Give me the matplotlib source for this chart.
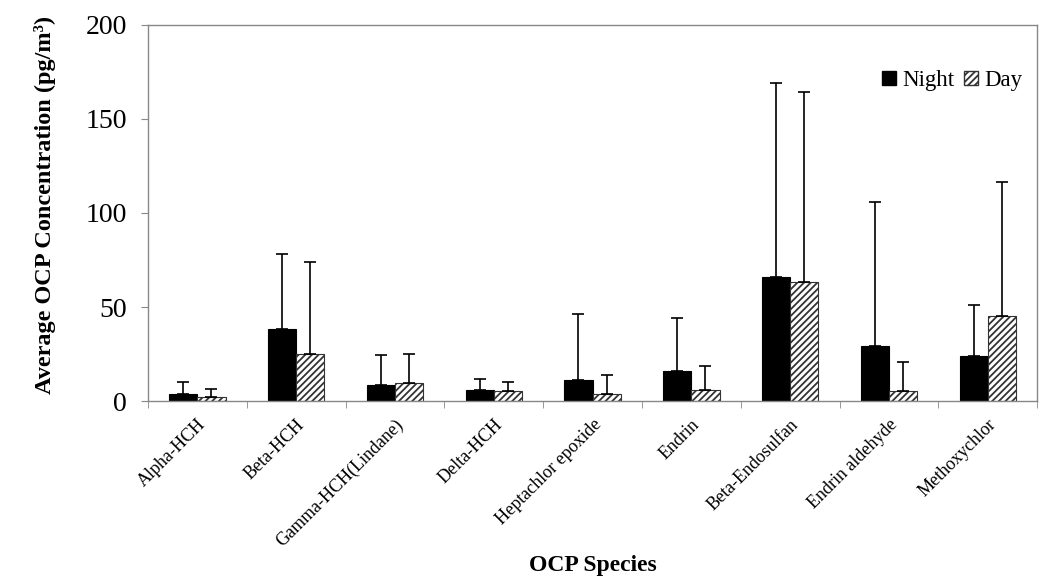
import matplotlib.pyplot as plt
import numpy as np
from matplotlib.patches import Patch

plt.rcParams['font.family'] = ['Liberation Serif', 'DejaVu Serif']
plt.rcParams['hatch.linewidth'] = 1.3

species = ["Alpha-HCH", "Beta-HCH", "Gamma-HCH(Lindane)", "Delta-HCH",
           "Heptachlor epoxide", "Endrin", "Beta-Endosulfan",
           "Endrin aldehyde", "Methoxychlor"]
night = [3.9, 38.3, 8.7, 5.9, 11.2, 15.8, 66.0, 29.4, 24.1]
night_err = [6.4, 40.0, 15.6, 5.6, 35.1, 28.5, 103.1, 76.3, 27.0]
day = [2.1, 25.2, 9.8, 5.2, 3.6, 5.7, 63.1, 5.1, 45.2]
day_err = [4.5, 48.7, 15.2, 5.1, 10.1, 12.9, 101.3, 15.9, 71.1]

fig = plt.figure(figsize=(10.53, 5.81), dpi=100)
ax = fig.add_axes([0.1405, 0.3098, 0.8445, 0.6472])

x = np.arange(len(species))
w = 0.285
ax.bar(x - w / 2, night, w, color="black", edgecolor="black", linewidth=0.8,
       yerr=[np.zeros(len(x)), night_err], capsize=4.5,
       error_kw=dict(elinewidth=1.2, capthick=1.2, ecolor="black"))
ax.bar(x + w / 2, day, w, color="white", edgecolor="#333333", linewidth=0.8,
       hatch="/////", yerr=[np.zeros(len(x)), day_err], capsize=4.5,
       error_kw=dict(elinewidth=1.2, capthick=1.2, ecolor="black"))

ax.set_xlim(-0.5, len(species) - 0.5)
ax.set_ylim(0, 200)
ax.set_yticks([0, 50, 100, 150, 200])
ax.tick_params(axis="y", labelsize=20, length=5, color="#888888", direction="out", pad=10)

ax.set_xticks(x)
ax.set_xticklabels(species, rotation=45, ha="right", rotation_mode="anchor", fontsize=13)
ax.tick_params(axis="x", length=0, pad=11)
ax.set_xticks(np.arange(-0.5, len(species), 1), minor=True)
ax.tick_params(axis="x", which="minor", length=5, color="#888888", direction="out")

for s in ax.spines.values():
    s.set_color("#888888")
    s.set_linewidth(1.0)

fig.text(0.043, 0.647, "Average OCP Concentration (pg/m³)", rotation=90,
         ha="center", va="center", fontsize=17.5, fontweight="bold")
fig.text(0.563, 0.026, "OCP Species", ha="center", va="center",
         fontsize=17, fontweight="bold")

handles = [Patch(facecolor="black", edgecolor="black"),
           Patch(facecolor="white", edgecolor="#333333", hatch="/////")]
ax.legend(handles, ["Night", "Day"], loc="upper right", frameon=False, ncol=2,
          fontsize=16.5, handlelength=0.6, handleheight=0.6, handletextpad=0.3,
          columnspacing=0.4, borderaxespad=0.5, bbox_to_anchor=(1.007, 0.935))

fig.savefig("out.png", dpi=100)
